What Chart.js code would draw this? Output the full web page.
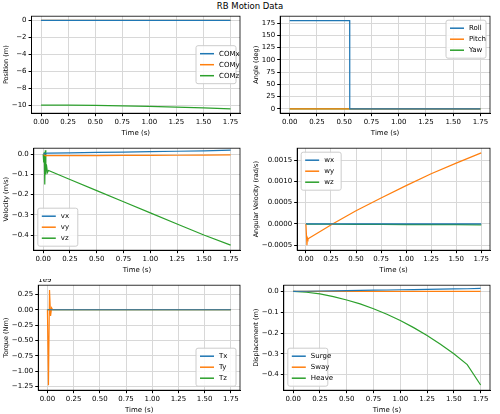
<!DOCTYPE html>
<html><head><meta charset="utf-8">
<script src="https://cdn.jsdelivr.net/npm/chart.js@4"></script>
<style>
body{margin:0;background:#fff;width:500px;height:414px;position:relative;overflow:hidden;font-family:"DejaVu Sans",sans-serif}
#title{position:absolute;top:1px;left:0;width:500px;text-align:center;font-size:8.5px;color:#000}
.c{position:absolute;width:250px}
</style></head><body>
<div id="title">RB Motion Data</div>
<div class="c" style="left:0;top:10px;height:127px"><canvas id="c1"></canvas></div>
<div class="c" style="left:250px;top:10px;height:127px"><canvas id="c2"></canvas></div>
<div class="c" style="left:0;top:142px;height:132px"><canvas id="c3"></canvas></div>
<div class="c" style="left:250px;top:142px;height:132px"><canvas id="c4"></canvas></div>
<div class="c" style="left:0;top:279px;height:135px"><canvas id="c5"></canvas></div>
<div class="c" style="left:250px;top:279px;height:135px"><canvas id="c6"></canvas></div>
<script>
const BLUE = '#1f77b4', ORANGE = '#ff7f0e', GREEN = '#2ca02c';
const xTicks = [0, 0.25, 0.5, 0.75, 1.0, 1.25, 1.5, 1.75];

// position
const tPos = [0, 0.25, 0.5, 0.75, 1.0, 1.25, 1.5, 1.75];
const comX = [0, 0, 0, 0, 0, 0, 0, 0];
const comY = [0, 0, 0, 0, 0, 0, 0, 0];
const comZ = [-9.95, -9.96, -9.99, -10.03, -10.1, -10.18, -10.28, -10.4];

// angles
const tAng = [0, 0.55, 0.551, 1.75];
const roll = [180, 180, 0, 0];
const pitch = [0, 0, 0, 0];
const yaw = [0, 0, 0, 0];

// velocity
const tVel = [0, 0.005, 0.01, 0.015, 0.02, 0.025, 0.03, 0.04, 0.05, 0.25, 0.5, 0.75, 1.0, 1.25, 1.5, 1.75];
const vx = [0, 0, 0.002, 0.003, 0.004, 0.005, 0.005, 0.006, 0.006, 0.007, 0.009, 0.011, 0.013, 0.015, 0.017, 0.02];
const vy = [0, 0, -0.003, -0.005, -0.006, -0.007, -0.007, -0.007, -0.007, -0.007, -0.007, -0.006, -0.006, -0.005, -0.004, -0.003];
const vz = [0, -0.04, 0.01, -0.15, 0.02, -0.1, -0.05, -0.09, -0.08, -0.125, -0.18, -0.235, -0.29, -0.345, -0.4, -0.45];

// angular velocity
const tAv = [0, 0.01, 0.015, 0.02, 0.03, 0.27, 0.5, 0.75, 1.0, 1.25, 1.5, 1.75];
const wx = [0, 0, 0, 0, 0, 0, 0, 0, 0, 0, 0, 0];
const wy = [0, -0.0005, -0.00033, -0.00036, -0.00034, 0, 0.00031, 0.00061, 0.0009, 0.00118, 0.00143, 0.00167];
const wz = [0, -0.000005, -0.000005, -0.000005, -0.000005, -0.00001, -0.000012, -0.000014, -0.000016, -0.000018, -0.00002, -0.000022];

// torque (x1e9)
const tTq = [0, 0.005, 0.01, 0.02, 0.03, 0.04, 0.05, 1.75];
const tqx = [0, 0, 0, 0, 0, 0, 0, 0];
const tqy = [0, 0, -1.23, 0.32, -0.1, 0.03, 0, 0];
const tqz = [0, 0, 0, 0, 0, 0, 0, 0];

// displacement
const tDisp = [0, 0.125, 0.25, 0.375, 0.5, 0.625, 0.75, 0.875, 1.0, 1.125, 1.25, 1.375, 1.5, 1.625, 1.75];
const surge = [0, 0.001, 0.002, 0.003, 0.004, 0.005, 0.006, 0.007, 0.008, 0.009, 0.01, 0.011, 0.012, 0.013, 0.015];
const sway = [0, 0, 0, 0, 0, 0, 0, 0, 0, 0, 0, 0, 0, 0, 0];
const heave = [0, -0.004, -0.012, -0.025, -0.041, -0.06, -0.083, -0.11, -0.14, -0.174, -0.212, -0.254, -0.3, -0.352, -0.45];

Chart.defaults.font.family = 'DejaVu Sans';
Chart.defaults.font.size = 7;
Chart.defaults.color = '#000';

const insideLegend = {
  id: 'insideLegend',
  afterDraw(chart, args, opts) {
    const ctx = chart.ctx, a = chart.chartArea;
    const ds = chart.data.datasets;
    const w = opts.w || 40, h = ds.length * 11 + 5;
    let x, y;
    if (opts.pos.includes('right')) x = a.right - w - 4; else x = a.left + 4;
    if (opts.pos.includes('upper')) y = a.top + 4;
    else if (opts.pos.includes('lower')) y = a.bottom - h - 4;
    else y = (a.top + a.bottom) / 2 - h / 2;
    ctx.save();
    ctx.fillStyle = 'rgba(255,255,255,0.85)';
    ctx.strokeStyle = '#ccc';
    ctx.lineWidth = 1;
    ctx.beginPath(); ctx.roundRect(x, y, w, h, 2); ctx.fill(); ctx.stroke();
    ctx.font = '7px DejaVu Sans';
    ctx.textBaseline = 'middle';
    ds.forEach((d, i) => {
      const yy = y + 8 + i * 11;
      ctx.strokeStyle = d.borderColor; ctx.lineWidth = 1.5;
      ctx.beginPath(); ctx.moveTo(x + 4, yy); ctx.lineTo(x + 18, yy); ctx.stroke();
      ctx.fillStyle = '#000';
      ctx.fillText(d.label, x + 23, yy);
    });
    ctx.restore();
  }
};

// full box around the axes, plus the scientific offset text
const frame = {
  id: 'frame',
  afterDraw(chart, args, opts) {
    const ctx = chart.ctx, a = chart.chartArea;
    ctx.save();
    ctx.strokeStyle = '#000'; ctx.lineWidth = 0.8;
    ctx.strokeRect(a.left, a.top, a.right - a.left, a.bottom - a.top);
    if (opts.text) {
      ctx.font = '7px DejaVu Sans'; ctx.fillStyle = '#000';
      ctx.textBaseline = 'bottom'; ctx.fillText(opts.text, a.left, a.top - 2);
    }
    ctx.restore();
  }
};

function fixed(list) {
  return function(axis) { axis.ticks = list.map(v => ({ value: v })); };
}
const fmt = (v, d) => (Math.abs(v) < 1e-12 ? 0 : v).toFixed(d).replace('-', '\u2212');

function makeChart(id, t, series, labels, yLabel, yMin, yMax, yTicks, dec, legendPos, extra) {
  const colors = [BLUE, ORANGE, GREEN];
  new Chart(document.getElementById(id), {
    type: 'line',
    data: {
      datasets: series.map((s, i) => ({
        label: labels[i],
        data: s.map((v, j) => ({ x: t[j], y: v })),
        borderColor: colors[i], borderWidth: 1.2, pointRadius: 0, tension: 0
      }))
    },
    options: {
      animation: false, responsive: true, maintainAspectRatio: false,
      layout: { padding: { top: 6, right: 10, left: 2 } },
      plugins: { legend: { display: false }, tooltip: { enabled: false },
        insideLegend: { pos: legendPos },
        frame: { text: extra || '' } },
      scales: {
        x: { type: 'linear', min: -0.0875, max: 1.8375,
          afterBuildTicks: fixed(xTicks),
          ticks: { callback: v => v.toFixed(2), maxRotation: 0, padding: 2 },
          grid: { color: '#d8d8d8', tickLength: 3, tickColor: '#000' },
          border: { color: '#000' },
          title: { display: true, text: 'Time (s)', padding: 0 } },
        y: { min: yMin, max: yMax,
          afterBuildTicks: fixed(yTicks),
          ticks: { callback: v => fmt(v, dec), padding: 2 },
          grid: { color: '#d8d8d8', tickLength: 3, tickColor: '#000' },
          border: { color: '#000' },
          title: { display: true, text: yLabel, padding: 0, font: { size: 6.5 } } }
      }
    },
    plugins: [insideLegend, frame]
  });
}

makeChart('c1', tPos, [comX, comY, comZ], ['COMx', 'COMy', 'COMz'], 'Position (m)',
  -10.9, 0.5, [-10, -8, -6, -4, -2, 0], 0, 'right');
makeChart('c2', tAng, [roll, pitch, yaw], ['Roll', 'Pitch', 'Yaw'], 'Angle (deg)',
  -9, 189, [0, 25, 50, 75, 100, 125, 150, 175], 0, 'upper right');
makeChart('c3', tVel, [vx, vy, vz], ['vx', 'vy', 'vz'], 'Velocity (m/s)',
  -0.475, 0.03, [-0.4, -0.3, -0.2, -0.1, 0.0], 1, 'lower left');
makeChart('c4', tAv, [wx, wy, wz], ['wx', 'wy', 'wz'], 'Angular Velocity (rad/s)',
  -0.00062, 0.00178, [-0.0005, 0, 0.0005, 0.001, 0.0015], 4, 'upper left');
makeChart('c5', tTq, [tqx, tqy, tqz], ['Tx', 'Ty', 'Tz'], 'Torque (Nm)',
  -1.31, 0.4, [-1.25, -1.0, -0.75, -0.5, -0.25, 0, 0.25], 2, 'lower right', '1e9');
makeChart('c6', tDisp, [surge, sway, heave], ['Surge', 'Sway', 'Heave'], 'Displacement (m)',
  -0.475, 0.03, [-0.4, -0.3, -0.2, -0.1, 0.0], 1, 'lower left');
</script>
</body></html>
